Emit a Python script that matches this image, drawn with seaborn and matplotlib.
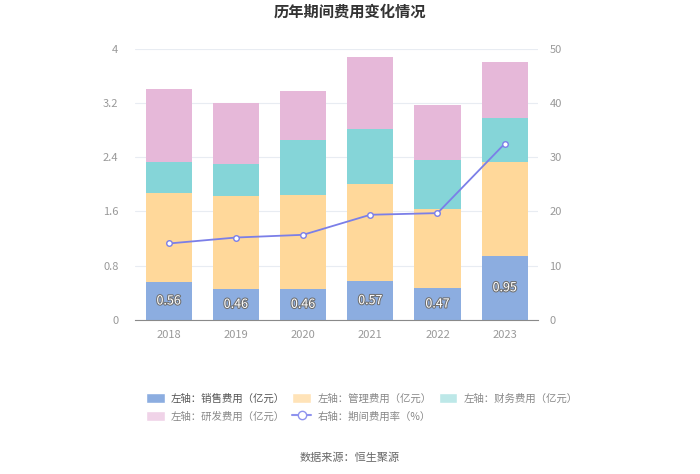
import numpy as np
import pandas as pd
import seaborn as sns
from matplotlib import pyplot as plt
import matplotlib.patheffects as pe
from matplotlib.patches import Patch
from matplotlib.lines import Line2D

years = ['2018', '2019', '2020', '2021', '2022', '2023']
xiaoshou = [0.56, 0.46, 0.46, 0.57, 0.47, 0.95]   # 销售费用
guanli = [1.31, 1.37, 1.39, 1.44, 1.16, 1.38]     # 管理费用
caiwu = [0.46, 0.47, 0.81, 0.80, 0.73, 0.65]      # 财务费用
yanfa = [1.07, 0.90, 0.72, 1.07, 0.81, 0.82]      # 研发费用
feilv = [14.1, 15.2, 15.7, 19.4, 19.7, 32.5]      # 期间费用率 %

sns.set_style('white')
plt.rcParams['font.family'] = ['Noto Sans CJK SC', 'DejaVu Sans']

df = pd.DataFrame({'year': years, 'xs': xiaoshou, 'gl': guanli, 'cw': caiwu, 'yf': yanfa})
df['c1'] = df['xs']
df['c2'] = df['c1'] + df['gl']
df['c3'] = df['c2'] + df['cw']
df['c4'] = df['c3'] + df['yf']

fig = plt.figure(figsize=(7, 4.74), dpi=100)
ax = fig.add_axes([0.193, 0.325, 0.576, 0.572])

cols = {'c4': '#e6b8d9', 'c3': '#85d5d8', 'c2': '#ffd89a', 'c1': '#8cade0'}
# tallest first, so every shorter bar sits on top of it
for c in ['c4', 'c3', 'c2', 'c1']:
    sns.barplot(data=df, x='year', y=c, color=cols[c], saturation=1, width=0.69, ax=ax,
                linewidth=0)

for i, v in enumerate(xiaoshou):
    ax.text(i, v / 2, f'{v:.2f}', ha='center', va='center', fontsize=9, color='white',
            path_effects=[pe.withStroke(linewidth=1.5, foreground='#707070')])

ax.set_ylim(0, 4)
ax.set_yticks([0, 0.8, 1.6, 2.4, 3.2, 4])
ax.set_yticklabels(['0', '0.8', '1.6', '2.4', '3.2', '4'])
ax.set_xlim(-0.5, 5.5)
ax.set_xlabel('')
ax.set_ylabel('')
ax.yaxis.grid(True, color='#e8ecf2', linewidth=0.8)
ax.set_axisbelow(True)
for s in ['top', 'right', 'left']:
    ax.spines[s].set_visible(False)
ax.spines['bottom'].set_color('#8a8a8a')
ax.tick_params(axis='y', length=0, colors='#999999', labelsize=8, pad=12)
ax.tick_params(axis='x', length=4, colors='#8a8a8a', labelsize=8, labelcolor='#999999')

ax2 = ax.twinx()
sns.lineplot(x=np.arange(len(years)), y=feilv, ax=ax2, color='#7b7fe8', linewidth=1.3,
             marker='o', markersize=4, markerfacecolor='white', markeredgecolor='#7b7fe8',
             markeredgewidth=1)
ax2.set_ylim(0, 50)
ax2.set_yticks([0, 10, 20, 30, 40, 50])
for s in ['top', 'right', 'left', 'bottom']:
    ax2.spines[s].set_visible(False)
ax2.tick_params(axis='y', length=0, colors='#999999', labelsize=8, pad=8)
ax2.set_xlim(-0.5, 5.5)

fig.text(0.5, 0.975, '历年期间费用变化情况', ha='center', va='center', fontsize=11,
         fontweight='bold', color='#333333')

h_xs = Patch(facecolor='#8cade0', label='左轴：销售费用（亿元）')
h_gl = Patch(facecolor='#ffe3b8', label='左轴：管理费用（亿元）')
h_cw = Patch(facecolor='#bde8e8', label='左轴：财务费用（亿元）')
h_yf = Patch(facecolor='#f0d3e8', label='左轴：研发费用（亿元）')
h_fl = Line2D([0], [0], color='#8f93ee', marker='o', markerfacecolor='white',
              markersize=6, label='右轴：期间费用率（%）')
# legend fills column by column, so order to get rows like the reference
leg = fig.legend(handles=[h_xs, h_yf, h_gl, h_fl, h_cw], ncol=3, loc='upper left',
                 bbox_to_anchor=(0.195, 0.19), frameon=False, fontsize=7.5,
                 handlelength=1.8, handleheight=1.0, columnspacing=0.7,
                 labelspacing=0.75, handletextpad=0.6)
for t in leg.get_texts():
    t.set_color('#888888')
leg.get_texts()[0].set_color('#555555')

fig.text(0.5, 0.035, '数据来源：恒生聚源', ha='center', va='center', fontsize=8, color='#666666')

plt.savefig('out.png', dpi=100)
